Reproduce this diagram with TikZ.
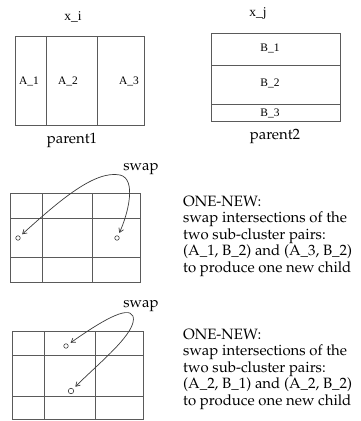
\documentclass[tikz,border=0pt]{standalone}
\usepackage[T1]{fontenc}
\usepackage{fontspec}
\setmainfont{Liberation Serif}
\usetikzlibrary{arrows.meta}
\newcommand{\palfont}{\fontencoding{T1}\fontfamily{ppl}\selectfont}
\definecolor{linegray}{HTML}{5A5A5A}
\definecolor{arrowgray}{HTML}{3A3A3A}
\begin{document}
\begin{tikzpicture}[x=1bp,y=-1bp,
  box/.style={draw=linegray, line width=0.8bp},
  tlabel/.style={font=\fontsize{11.5}{13}\selectfont, inner sep=0pt},
  xlabel/.style={font=\fontsize{13.5}{15}\selectfont, inner sep=0pt},
  plabel/.style={font=\palfont\fontsize{15}{16.6}\selectfont, inner sep=0pt},
  dot/.style={circle, draw=arrowgray, line width=0.6bp, inner sep=0pt, minimum size=4.5bp},
  swaparrow/.style={{Straight Barb[length=4bp,width=5bp]}-{Straight Barb[length=4bp,width=5bp]},
     draw=arrowgray, line width=0.7bp, shorten <=3bp, shorten >=3bp}]
\useasboundingbox (0,0) rectangle (361,421);
% parent 1
\draw[box] (15,36) rectangle (144,125);
\draw[box] (46,36) -- (46,125) (97,36) -- (97,125);
\node[xlabel, anchor=base] (xi) at (73,20) {x\_i};
\node[tlabel, anchor=base] (a1) at (29,84) {A\_1};
\node[tlabel, anchor=base] (a2) at (68,84) {A\_2};
\node[tlabel, anchor=base] (a3) at (129,84) {A\_3};
\node[plabel, anchor=base] (p1) at (72,143) {parent1};
% parent 2
\draw[box] (211,33) rectangle (340,121);
\draw[box] (211,65) -- (340,65) (211,104) -- (340,104);
\node[xlabel, anchor=base] (xj) at (258,16) {x\_j};
\node[tlabel, anchor=base] (b1) at (270,51) {B\_1};
\node[tlabel, anchor=base] (b2) at (270,86) {B\_2};
\node[tlabel, anchor=base] (b3) at (270,116) {B\_3};
\node[plabel, anchor=base] (p2) at (275,139) {parent2};
% grid 1
\draw[box] (10,193) rectangle (140,282);
\draw[box] (10,218) -- (140,218) (10,257) -- (140,257);
\draw[box] (42,193) -- (42,282) (92,193) -- (92,282);
\node[dot] (c1) at (18,238) {};
\node[dot] (c2) at (117,238) {};
\draw[swaparrow] (c1) .. controls (60,200) and (95,170) .. (120,175)
   .. controls (137,179) and (128,214) .. (c2);
\node[plabel, anchor=base] (s1) at (141,170) {swap};
\node[plabel, anchor=base west] (t1a) at (183,206) {ONE-NEW:};
\node[plabel, anchor=base west] (t1b) at (183,222.5) {swap intersections of the};
\node[plabel, anchor=base west] (t1c) at (183,239) {two sub-cluster pairs:};
\node[plabel, anchor=base west] (t1d) at (183,255.5) {(A\_1, B\_2) and (A\_3, B\_2)};
\node[plabel, anchor=base west] (t1e) at (183,272) {to produce one new child};
% grid 2
\draw[box] (12,331) rectangle (143,419);
\draw[box] (12,355) -- (143,355) (12,396) -- (143,396);
\draw[box] (44,331) -- (44,419) (95,331) -- (95,419);
\node[dot] (c3) at (66,346) {};
\node[dot, minimum size=5.5bp] (c4) at (71,391) {};
\draw[swaparrow] (c3) .. controls (100,322) and (128,305) .. (133,316)
   .. controls (138,332) and (100,362) .. (c4);
\node[plabel, anchor=base] (s2) at (141,307) {swap};
\node[plabel, anchor=base west] (t2a) at (183,339) {ONE-NEW:};
\node[plabel, anchor=base west] (t2b) at (183,355.5) {swap intersections of the};
\node[plabel, anchor=base west] (t2c) at (183,372) {two sub-cluster pairs:};
\node[plabel, anchor=base west] (t2d) at (183,388.5) {(A\_2, B\_1) and (A\_2, B\_2)};
\node[plabel, anchor=base west] (t2e) at (183,405) {to produce one new child};
\end{tikzpicture}
\end{document}
